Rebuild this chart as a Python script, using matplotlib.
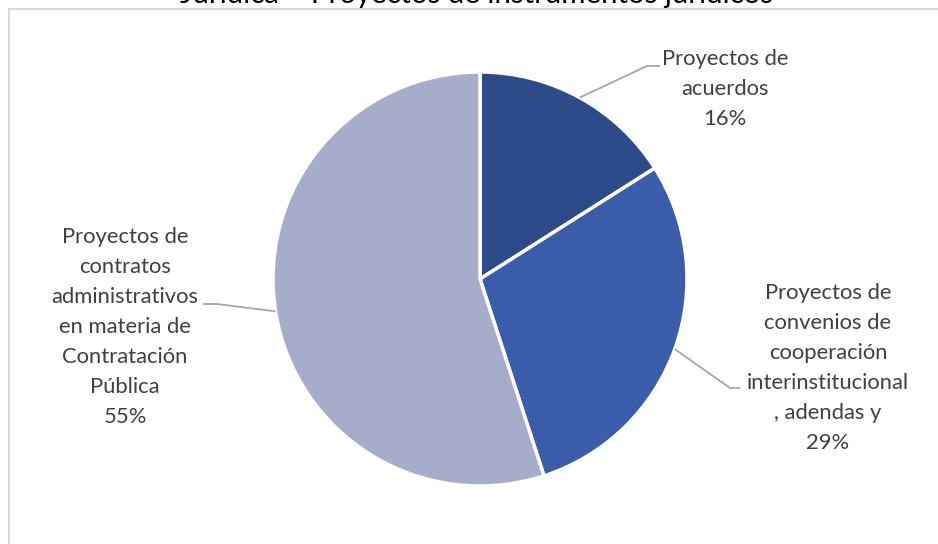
import numpy as np
import matplotlib.pyplot as plt
from matplotlib.patches import Rectangle

plt.rcParams['font.family'] = ['Lato', 'DejaVu Sans']

# Share of each kind of legal instrument project
labels = [
    'Proyectos de\nacuerdos',
    'Proyectos de\nconvenios de\ncooperación\ninterinstitucional\n, adendas y',
    'Proyectos de\ncontratos\nadministrativos\nen materia de\nContratación\nPública',
]
shares = [16, 29, 55]
colors = ['#2E4B89', '#3A5CAA', '#A6ADCB']
title = 'Jurídica – Proyectos de instrumentos jurídicos'

W, H = 938, 544
fig = plt.figure(figsize=(W / 100, H / 100), dpi=100)
ax = fig.add_axes([0, 0, 1, 1])

cx, cy, r = 480, H - 279, 207
wedges, _ = ax.pie(shares, colors=colors, startangle=90, counterclock=False,
                   center=(cx, cy), radius=r, frame=True,
                   wedgeprops=dict(edgecolor='white', linewidth=2.5))
ax.set_xlim(0, W)
ax.set_ylim(0, H)
ax.set_aspect('equal')
ax.axis('off')

# label centre, elbow point and horizontal stub end for each slice
label_pos = [(725, H - 89), (828, H - 368), (125, H - 327)]
elbows = [((647, H - 66), (660, H - 66)),
          ((730, H - 388), (740, H - 388)),
          ((217, H - 304), (203, H - 304))]

for w, lab, val, (tx, ty), (e1, e2) in zip(wedges, labels, shares, label_pos, elbows):
    mid = np.deg2rad((w.theta1 + w.theta2) / 2)
    px, py = cx + r * np.cos(mid), cy + r * np.sin(mid)
    ax.plot([px, e1[0], e2[0]], [py, e1[1], e2[1]], color='#A6A6A6', lw=1.3,
            solid_capstyle='butt')
    ax.text(tx, ty, f'{lab}\n{val}%', ha='center', va='center', fontsize=15.8,
            color='#404040', linespacing=1.62)

# chart area border
ax.add_patch(Rectangle((8.5, -50), 1000, H - 8.5 + 50, fill=False,
                       edgecolor='#D9D9D9', lw=1.5))

ax.text(477, H - 3, title, ha='center', va='baseline', fontsize=21.2,
        color='#000000')

fig.savefig('out.png', dpi=100)
